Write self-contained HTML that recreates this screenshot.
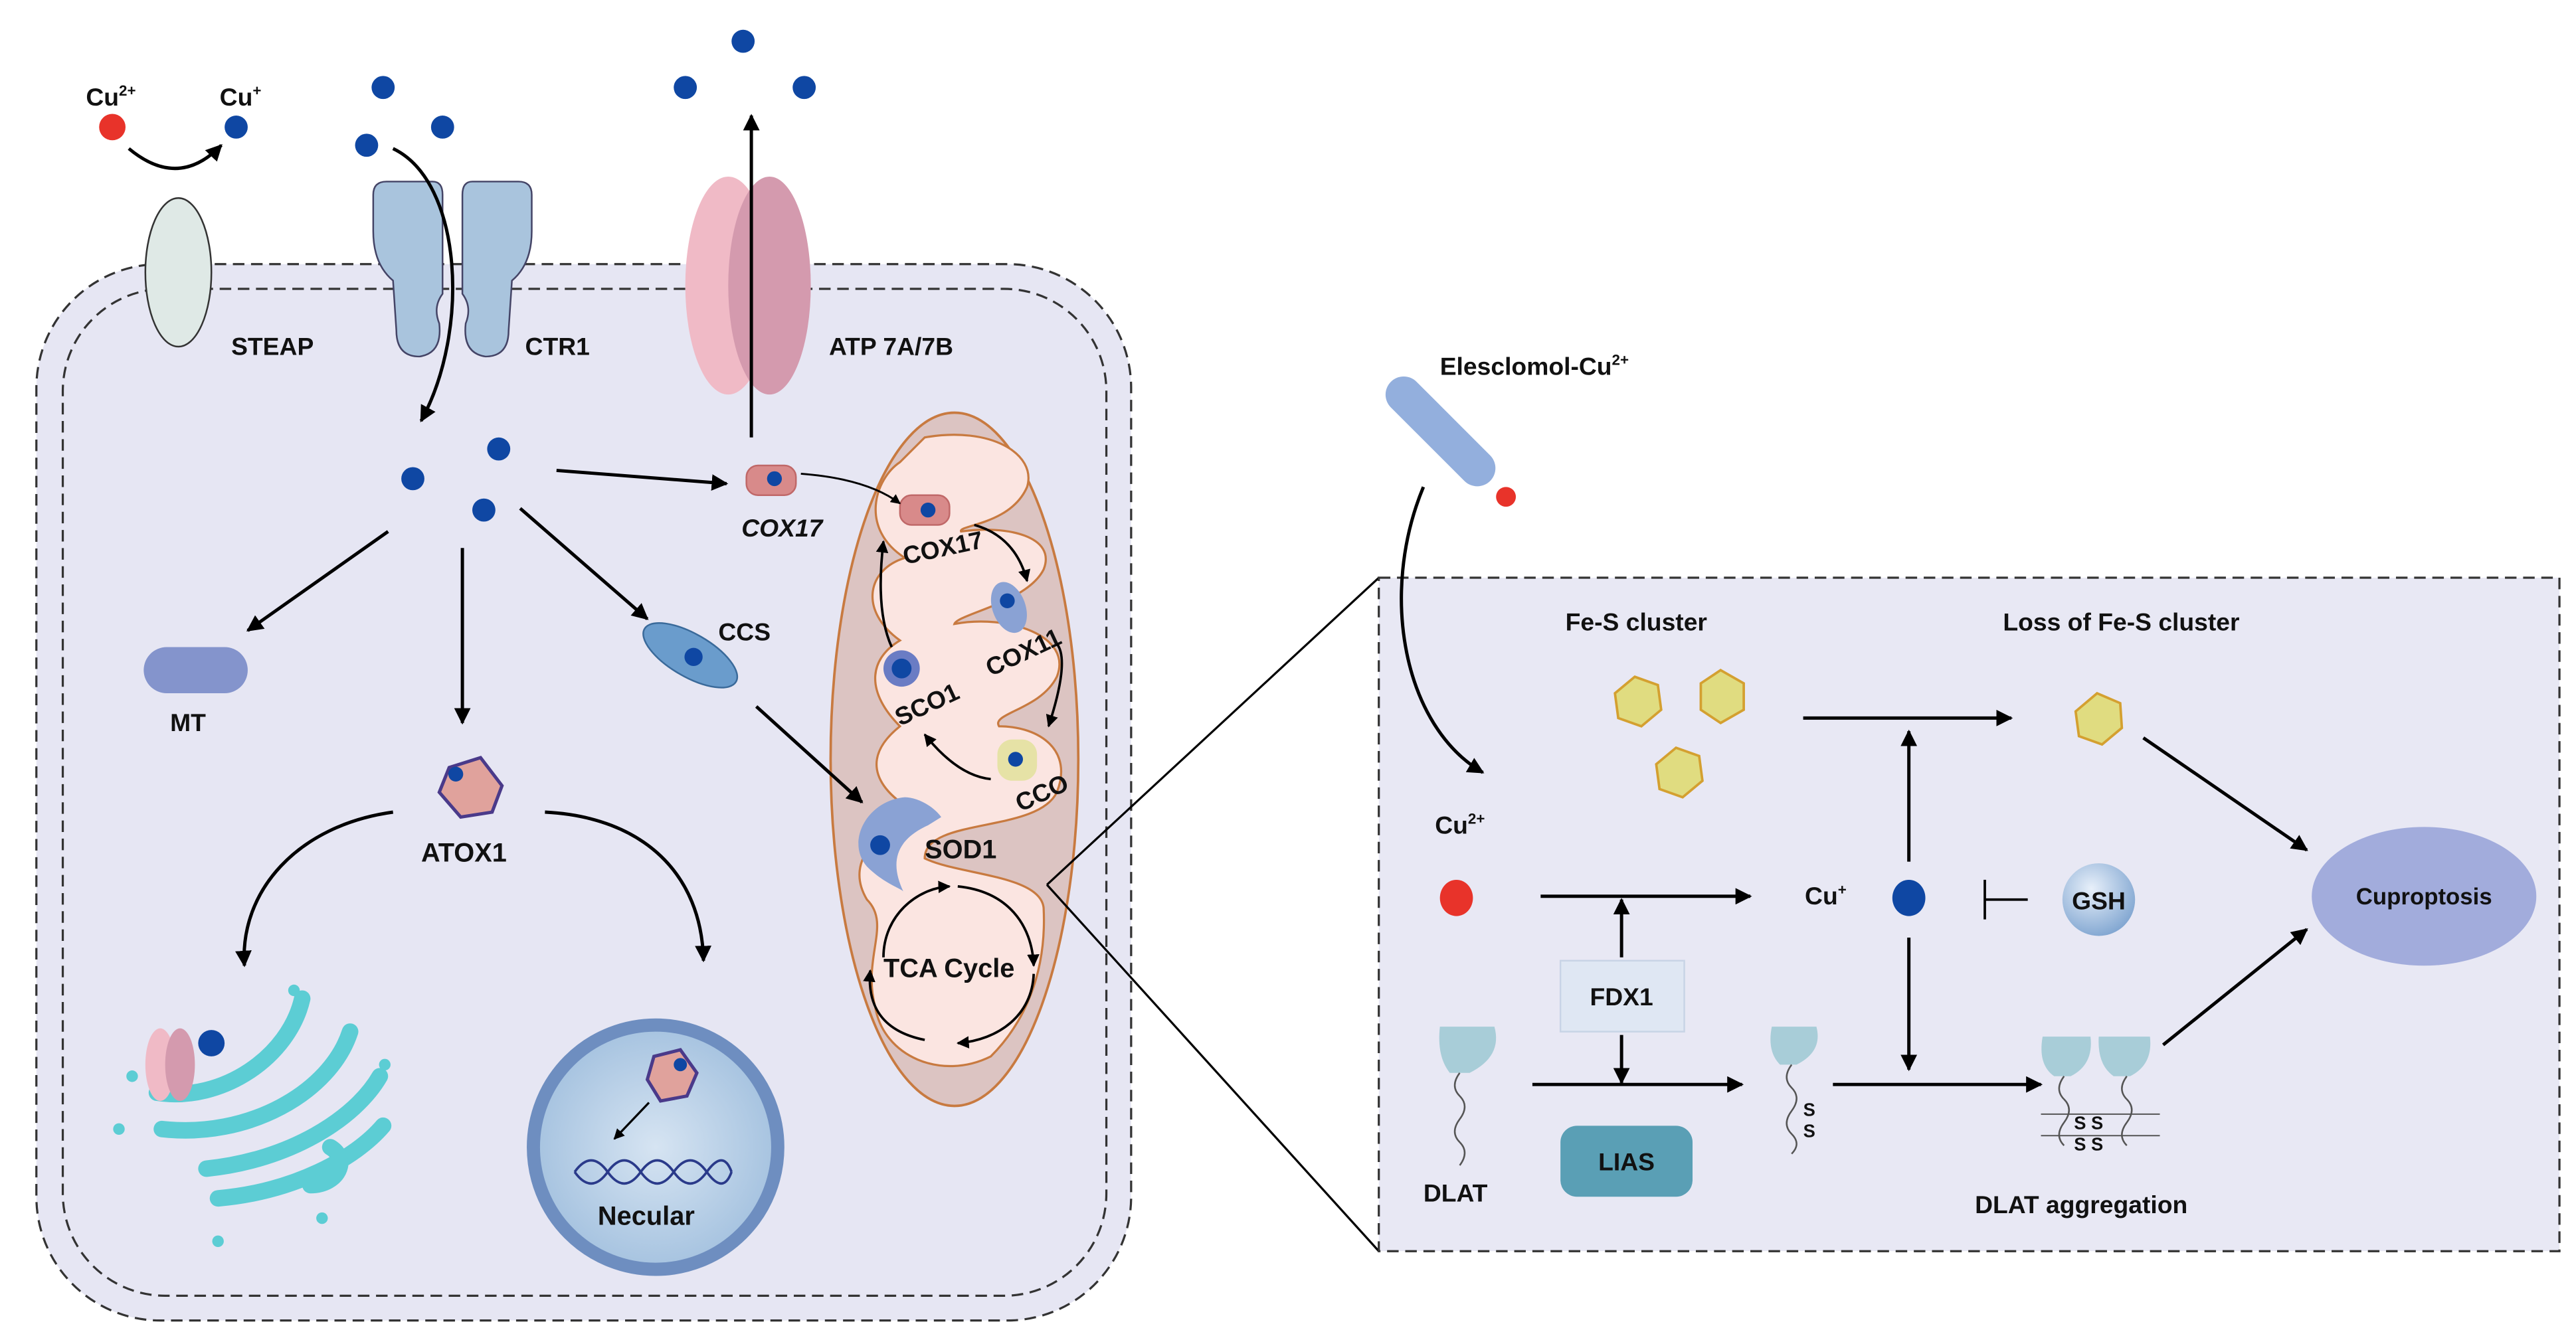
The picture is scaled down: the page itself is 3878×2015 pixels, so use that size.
<!DOCTYPE html>
<html><head><meta charset="utf-8"><style>
html,body{margin:0;padding:0;background:#fff;}
svg{display:block;}
text{font-family:"Liberation Sans",Arial,sans-serif;font-weight:bold;fill:#111;}
</style></head><body>
<svg width="3878" height="2015" viewBox="0 0 1560 810.6" xmlns="http://www.w3.org/2000/svg">
<defs>
<marker id="a" viewBox="0 0 10 10" refX="9" refY="5" markerWidth="5" markerHeight="5" orient="auto-start-reverse"><path d="M0,0 L10,5 L0,10 z" fill="#000"/></marker>
<radialGradient id="g" cx="40%" cy="35%" r="70%"><stop offset="0" stop-color="#e8f0fa"/><stop offset="1" stop-color="#7ea4d0"/></radialGradient>
<radialGradient id="n" cx="50%" cy="50%" r="60%"><stop offset="0" stop-color="#d6e4f2"/><stop offset="1" stop-color="#9cbcdc"/></radialGradient>
</defs>
<rect width="1560" height="811" fill="#fff"/>
<rect x="22" y="160" width="663" height="640" rx="75" fill="#e6e6f3" stroke="#333" stroke-width="1.3" stroke-dasharray="7,4"/>
<rect x="38" y="175" width="632" height="610" rx="62" fill="none" stroke="#333" stroke-width="1.3" stroke-dasharray="7,4"/>
<ellipse cx="108" cy="165" rx="20" ry="45" fill="#dfe9e6" stroke="#333" stroke-width="1"/>
<text x="140" y="215" font-size="15">STEAP</text>
<!-- CTR1 -->
<path d="M226,118 Q226,110 234,110 L262,110 Q268,110 268,118 L268,178 Q262,186 266,196 Q268,214 254,216 Q240,216 240,200 L238,170 Q226,160 226,140 Z" fill="#a9c4dd" stroke="#446" stroke-width="1"/>
<path d="M322,118 Q322,110 314,110 L286,110 Q280,110 280,118 L280,178 Q286,186 282,196 Q280,214 294,216 Q308,216 308,200 L310,170 Q322,160 322,140 Z" fill="#a9c4dd" stroke="#446" stroke-width="1"/>
<text x="318" y="215" font-size="15">CTR1</text>
<ellipse cx="441" cy="173" rx="26" ry="66" fill="#f0bac6"/>
<ellipse cx="466" cy="173" rx="25" ry="66" fill="#d49aae"/>
<text x="502" y="215" font-size="15">ATP 7A/7B</text>
<line x1="455" y1="265" x2="455" y2="70" stroke="#000" stroke-width="2" marker-end="url(#a)"/>
<text x="52" y="64" font-size="15">Cu<tspan font-size="9" dy="-6">2+</tspan></text>
<text x="133" y="64" font-size="15">Cu<tspan font-size="9" dy="-6">+</tspan></text>
<circle cx="68" cy="77" r="8" fill="#e8332a"/>
<path d="M78,90 Q108,115 134,88" fill="none" stroke="#000" stroke-width="2" marker-end="url(#a)"/>
<g fill="#0f47a3">
<circle cx="143" cy="77" r="7"/><circle cx="232" cy="53" r="7"/><circle cx="222" cy="88" r="7"/><circle cx="268" cy="77" r="7"/>
<circle cx="450" cy="25" r="7"/><circle cx="415" cy="53" r="7"/><circle cx="487" cy="53" r="7"/>
<circle cx="302" cy="272" r="7"/><circle cx="250" cy="290" r="7"/><circle cx="293" cy="309" r="7"/>
</g>
<path d="M238,90 C280,110 285,200 255,255" fill="none" stroke="#000" stroke-width="2" marker-end="url(#a)"/>
<line x1="337" y1="285" x2="440" y2="293" stroke="#000" stroke-width="2" marker-end="url(#a)"/>
<line x1="235" y1="322" x2="150" y2="382" stroke="#000" stroke-width="2" marker-end="url(#a)"/>
<line x1="280" y1="332" x2="280" y2="438" stroke="#000" stroke-width="2" marker-end="url(#a)"/>
<line x1="315" y1="308" x2="392" y2="375" stroke="#000" stroke-width="2" marker-end="url(#a)"/>
<rect x="87" y="392" width="63" height="28" rx="14" fill="#8494cc"/>
<text x="103" y="443" font-size="15">MT</text>
<rect x="452" y="282" width="30" height="18" rx="7" fill="#d88a8a" stroke="#c06868"/>
<circle cx="469" cy="290" r="4.5" fill="#0f47a3"/>
<text x="449" y="325" font-size="15" font-style="italic">COX17</text>
<ellipse cx="418" cy="397" rx="32" ry="13" transform="rotate(30 418 397)" fill="#6a9ccc" stroke="#3a6a9a"/>
<circle cx="420" cy="398" r="5.5" fill="#0f47a3"/>
<text x="435" y="388" font-size="15">CCS</text>
<polygon points="272,465 291,459 304,476 298,492 279,495 266,480" fill="#e0a29c" stroke="#4a3a8a" stroke-width="2"/>
<circle cx="276" cy="469" r="4.5" fill="#0f47a3"/>
<text x="255" y="522" font-size="16">ATOX1</text>
<path d="M238,492 C180,500 145,540 148,585" fill="none" stroke="#000" stroke-width="2" marker-end="url(#a)"/>
<path d="M330,492 C390,495 425,530 426,582" fill="none" stroke="#000" stroke-width="2" marker-end="url(#a)"/>
<g fill="none" stroke="#5ccdd4" stroke-width="10" stroke-linecap="round">
<path d="M95,662 C135,668 175,640 183,605"/>
<path d="M98,684 C150,690 200,662 212,625"/>
<path d="M125,708 C175,703 215,678 230,652"/>
<path d="M132,726 C178,722 215,702 232,682"/>
<path d="M188,718 C205,718 212,702 200,695"/>
</g>
<g fill="#5ccdd4"><circle cx="178" cy="600" r="3.5"/><circle cx="233" cy="645" r="3.5"/><circle cx="80" cy="652" r="3.5"/><circle cx="72" cy="684" r="3.5"/><circle cx="132" cy="752" r="3.5"/><circle cx="195" cy="738" r="3.5"/></g>
<ellipse cx="97" cy="645" rx="9" ry="22" fill="#f0bac6"/><ellipse cx="109" cy="645" rx="9" ry="22" fill="#d49aae"/>
<circle cx="128" cy="632" r="8" fill="#0f47a3"/>
<circle cx="397" cy="695" r="74" fill="url(#n)" stroke="#6e8ec0" stroke-width="8"/>
<polygon points="396,640 412,636 422,650 416,664 400,667 392,654" fill="#e0a29c" stroke="#4a3a8a" stroke-width="2"/>
<circle cx="412" cy="645" r="4" fill="#0f47a3"/>
<line x1="393" y1="668" x2="372" y2="690" stroke="#000" stroke-width="1.3" marker-end="url(#a)"/>
<path d="M348,710 q10,-14 20,0 t20,0 t20,0 t20,0 t15,0" fill="none" stroke="#2a3a8a" stroke-width="1.5"/>
<path d="M348,710 q10,14 20,0 t20,0 t20,0 t20,0 t15,0" fill="none" stroke="#2a3a8a" stroke-width="1.5"/>
<text x="362" y="742" font-size="16">Necular</text>
<!-- mitochondrion -->
<ellipse cx="578" cy="460" rx="75" ry="210" fill="#dcc4c2" stroke="#c87a40" stroke-width="1.5"/>
<path d="M560,265 C600,258 628,275 622,295 C612,318 580,318 582,322 C610,318 640,325 632,345 C622,365 580,372 578,378 C610,372 650,385 640,410 C630,430 600,432 605,440 C630,440 650,455 640,480 C628,505 560,495 560,520 C580,530 630,530 632,550 C634,590 620,620 600,640 C570,655 535,640 530,610 C522,580 540,560 525,545 C510,520 535,500 560,495 C530,480 520,460 545,440 C525,420 525,400 545,388 C520,370 525,345 548,338 C520,320 530,290 545,280 Z" fill="#fbe5e1" stroke="#c87a40" stroke-width="1.3"/>
<rect x="545" y="300" width="30" height="18" rx="7" fill="#d88a8a" stroke="#c06868"/>
<circle cx="562" cy="309" r="4.5" fill="#0f47a3"/>
<path d="M485,287 Q525,290 545,305" fill="none" stroke="#000" stroke-width="1.2" marker-end="url(#a)"/>
<text x="548" y="342" font-size="15" transform="rotate(-12 548 342)">COX17</text>
<path d="M590,318 Q615,325 622,352" fill="none" stroke="#000" stroke-width="1.5" marker-end="url(#a)"/>
<ellipse cx="611" cy="368" rx="10" ry="16" fill="#8aa2d4" transform="rotate(-20 611 368)"/>
<circle cx="610" cy="364" r="4.5" fill="#0f47a3"/>
<text x="600" y="410" font-size="15" transform="rotate(-25 600 410)">COX11</text>
<path d="M640,390 Q648,400 635,440" fill="none" stroke="#000" stroke-width="1.5" marker-end="url(#a)"/>
<circle cx="546" cy="405" r="11" fill="#6a7cc4"/><circle cx="546" cy="405" r="6" fill="#0f47a3"/>
<text x="545" y="440" font-size="15" transform="rotate(-25 545 440)">SCO1</text>
<path d="M540,392 Q530,370 535,328" fill="none" stroke="#000" stroke-width="1.5" marker-end="url(#a)"/>
<rect x="604" y="448" width="24" height="25" rx="9" fill="#e6e2a6"/><circle cx="615" cy="460" r="4.5" fill="#0f47a3"/>
<text x="618" y="492" font-size="15" transform="rotate(-25 618 492)">CCO</text>
<path d="M600,472 Q580,470 560,445" fill="none" stroke="#000" stroke-width="1.5" marker-end="url(#a)"/>
<path d="M548,483 C525,485 512,510 525,525 C535,535 545,538 547,540 C540,525 540,510 562,500 L570,495 C565,488 555,483 548,483 Z" fill="#8aa2d4"/>
<circle cx="533" cy="512" r="6" fill="#0f47a3"/>
<line x1="458" y1="428" x2="522" y2="486" stroke="#000" stroke-width="2" marker-end="url(#a)"/>
<text x="560" y="520" font-size="16">SOD1</text>
<text x="535" y="592" font-size="16">TCA Cycle</text>
<path d="M535,580 C535,555 555,538 575,537" fill="none" stroke="#000" stroke-width="1.5" marker-end="url(#a)"/>
<path d="M580,537 C610,540 625,560 626,585" fill="none" stroke="#000" stroke-width="1.5" marker-end="url(#a)"/>
<path d="M626,590 C625,615 605,630 580,632" fill="none" stroke="#000" stroke-width="1.5" marker-end="url(#a)"/>
<path d="M560,630 C535,625 525,610 527,588" fill="none" stroke="#000" stroke-width="1.5" marker-end="url(#a)"/>
<line x1="634" y1="536" x2="835" y2="350" stroke="#000" stroke-width="1.3"/>
<line x1="634" y1="536" x2="835" y2="758" stroke="#000" stroke-width="1.3"/>
<rect x="835" y="350" width="715" height="408" fill="#e8e8f4" stroke="#333" stroke-width="1.3" stroke-dasharray="7,4"/>
<rect x="830" y="250" width="85" height="22" rx="11" fill="#93afdd" transform="rotate(45 872 261)"/>
<circle cx="912" cy="301" r="6" fill="#e8332a"/>
<text x="872" y="227" font-size="15">Elesclomol-Cu<tspan font-size="9" dy="-6">2+</tspan></text>
<path d="M862,295 C835,360 850,440 898,468" fill="none" stroke="#000" stroke-width="2" marker-end="url(#a)"/>
<text x="948" y="382" font-size="15">Fe-S cluster</text>
<text x="1213" y="382" font-size="15">Loss of Fe-S cluster</text>
<g fill="#e0dc80" stroke="#d4a030" stroke-width="1.5">
<polygon points="990,410 1004,415 1006,430 994,440 980,435 978,420"/>
<polygon points="1042,406 1056,414 1056,430 1042,438 1030,430 1030,414"/>
<polygon points="1015,453 1029,458 1031,473 1019,483 1005,478 1003,463"/>
<polygon points="1270,420 1284,426 1285,441 1273,451 1259,446 1257,431"/>
</g>
<line x1="1092" y1="435" x2="1218" y2="435" stroke="#000" stroke-width="2" marker-end="url(#a)"/>
<line x1="1298" y1="447" x2="1397" y2="515" stroke="#000" stroke-width="2" marker-end="url(#a)"/>
<ellipse cx="1468" cy="543" rx="68" ry="42" fill="#a2acdc"/>
<text x="1468" y="548" font-size="14" text-anchor="middle">Cuproptosis</text>
<text x="869" y="505" font-size="15">Cu<tspan font-size="9" dy="-6">2+</tspan></text>
<ellipse cx="882" cy="544" rx="10" ry="11" fill="#e8332a"/>
<line x1="933" y1="543" x2="1060" y2="543" stroke="#000" stroke-width="2" marker-end="url(#a)"/>
<text x="1093" y="548" font-size="15">Cu<tspan font-size="9" dy="-6">+</tspan></text>
<ellipse cx="1156" cy="544" rx="10" ry="11" fill="#0f47a3"/>
<line x1="1156" y1="522" x2="1156" y2="443" stroke="#000" stroke-width="2" marker-end="url(#a)"/>
<line x1="1156" y1="568" x2="1156" y2="648" stroke="#000" stroke-width="2" marker-end="url(#a)"/>
<line x1="1202" y1="545" x2="1228" y2="545" stroke="#000" stroke-width="1.5"/>
<line x1="1202" y1="533" x2="1202" y2="557" stroke="#000" stroke-width="1.5"/>
<circle cx="1271" cy="545" r="22" fill="url(#g)"/>
<text x="1271" y="551" font-size="15" text-anchor="middle">GSH</text>
<rect x="945" y="582" width="75" height="43" fill="#dfe7f3" stroke="#c8d4e6"/>
<text x="982" y="609" font-size="15" text-anchor="middle">FDX1</text>
<line x1="982" y1="580" x2="982" y2="545" stroke="#000" stroke-width="2" marker-end="url(#a)"/>
<line x1="982" y1="627" x2="982" y2="656" stroke="#000" stroke-width="2" marker-end="url(#a)"/>
<rect x="945" y="682" width="80" height="43" rx="10" fill="#5a9fb5"/>
<text x="985" y="709" font-size="15" text-anchor="middle">LIAS</text>
<path d="M872,622 L905,622 Q910,640 890,650 L878,650 Q870,640 872,622 Z" fill="#a8cdd8"/>
<path d="M884,650 q-6,8 0,14 t0,14 t0,14 t0,14" fill="none" stroke="#555" stroke-width="1"/>
<text x="862" y="728" font-size="15">DLAT</text>
<line x1="928" y1="657" x2="1055" y2="657" stroke="#000" stroke-width="2" marker-end="url(#a)"/>
<path d="M1073,622 L1100,622 Q1104,637 1088,645 L1078,645 Q1070,637 1073,622 Z" fill="#a8cdd8"/>
<path d="M1085,645 q-6,8 0,14 t0,14 t0,14 t0,12" fill="none" stroke="#555" stroke-width="1"/>
<text x="1092" y="676" font-size="11">S</text><text x="1092" y="689" font-size="11">S</text>
<line x1="1110" y1="657" x2="1236" y2="657" stroke="#000" stroke-width="2" marker-end="url(#a)"/>
<path d="M1237,628 L1266,628 Q1268,645 1254,652 L1244,652 Q1234,645 1237,628 Z" fill="#a8cdd8"/>
<path d="M1271,628 L1302,628 Q1304,645 1290,652 L1280,652 Q1270,645 1271,628 Z" fill="#a8cdd8"/>
<path d="M1250,652 q-6,8 0,14 t0,14 t0,14" fill="none" stroke="#555" stroke-width="1"/>
<path d="M1288,652 q-6,8 0,14 t0,14 t0,14" fill="none" stroke="#555" stroke-width="1"/>
<path d="M1236,675 h72 M1236,688 h72" stroke="#555" stroke-width="0.8"/>
<text x="1256" y="684" font-size="11">S S</text><text x="1256" y="697" font-size="11">S S</text>
<text x="1196" y="735" font-size="15">DLAT aggregation</text>
<line x1="1310" y1="633" x2="1397" y2="563" stroke="#000" stroke-width="2" marker-end="url(#a)"/>
</svg>
</body></html>
